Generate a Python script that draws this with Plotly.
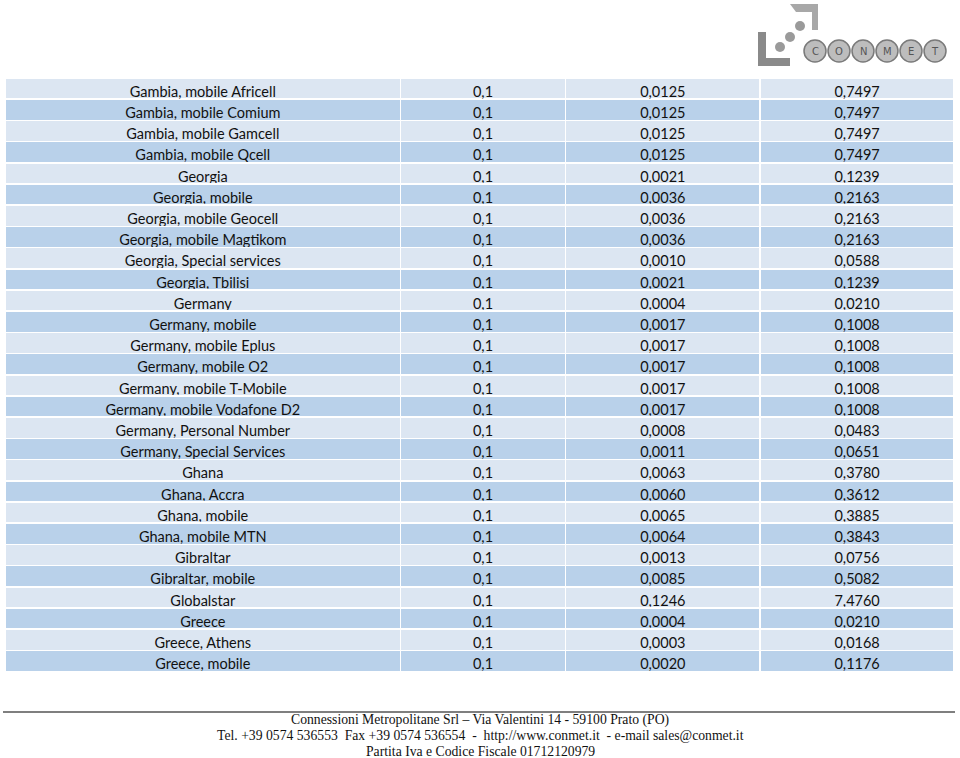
import plotly.graph_objects as go

# dati della tabella
destinazioni = [
    "Gambia, mobile Africell", "Gambia, mobile Comium", "Gambia, mobile Gamcell",
    "Gambia, mobile Qcell", "Georgia", "Georgia, mobile", "Georgia, mobile Geocell",
    "Georgia, mobile Magtikom", "Georgia, Special services", "Georgia, Tbilisi",
    "Germany", "Germany, mobile", "Germany, mobile Eplus", "Germany, mobile O2",
    "Germany, mobile T-Mobile", "Germany, mobile Vodafone D2", "Germany, Personal Number",
    "Germany, Special Services", "Ghana", "Ghana, Accra", "Ghana, mobile",
    "Ghana, mobile MTN", "Gibraltar", "Gibraltar, mobile", "Globalstar", "Greece",
    "Greece, Athens", "Greece, mobile",
]
scatto = ["0,1"] * len(destinazioni)
costo_sec = [
    "0,0125", "0,0125", "0,0125", "0,0125", "0,0021", "0,0036", "0,0036", "0,0036",
    "0,0010", "0,0021", "0,0004", "0,0017", "0,0017", "0,0017", "0,0017", "0,0017",
    "0,0008", "0,0011", "0,0063", "0,0060", "0,0065", "0,0064", "0,0013", "0,0085",
    "0,1246", "0,0004", "0,0003", "0,0020",
]
costo_min = [
    "0,7497", "0,7497", "0,7497", "0,7497", "0,1239", "0,2163", "0,2163", "0,2163",
    "0,0588", "0,1239", "0,0210", "0,1008", "0,1008", "0,1008", "0,1008", "0,1008",
    "0,0483", "0,0651", "0,3780", "0,3612", "0,3885", "0,3843", "0,0756", "0,5082",
    "7,4760", "0,0210", "0,0168", "0,1176",
]

footer = [
    "Connessioni Metropolitane Srl \u2013 Via Valentini 14 - 59100 Prato (PO)",
    "Tel. +39 0574 536553  Fax +39 0574 536554  -  http://www.conmet.it  - e-mail sales@conmet.it",
    "Partita Iva e Codice Fiscale 01712120979",
]

W, H = 960, 758
ROW_H = 21.2
chiaro, scuro = "#dce6f2", "#b9d1ea"

colonne = [destinazioni, scatto, costo_sec, costo_min]
# la prima riga va nell'header, il resto nelle celle
righe_fill = [scuro if i % 2 == 0 else chiaro for i in range(len(destinazioni) - 1)]
font_tab = dict(family="Lato, Calibri, sans-serif", size=14.5, color="#111111")

fig = go.Figure(go.Table(
    domain=dict(x=[5 / W, 955 / W], y=[0, 1 - 78 / H]),
    columnwidth=[396, 165, 195, 194],
    header=dict(values=[c[0] for c in colonne], fill_color=chiaro,
                line=dict(color="white", width=1.5), align="center",
                font=font_tab, height=ROW_H),
    cells=dict(values=[c[1:] for c in colonne], fill_color=[righe_fill] * 4,
               line=dict(color="white", width=1.5), align="center",
               font=font_tab, height=ROW_H),
))

# linea e piè di pagina
fig.add_shape(type="line", xref="paper", yref="paper", x0=3 / W, x1=955 / W,
              y0=1 - 712 / H, y1=1 - 712 / H, line=dict(color="#555555", width=1.5))
for i, riga in enumerate(footer):
    fig.add_annotation(text=riga, xref="paper", yref="paper", x=0.5,
                       y=1 - (720 + 15.5 * i) / H, showarrow=False,
                       xanchor="center", yanchor="middle",
                       font=dict(family="Liberation Serif, Times New Roman, serif",
                                 size=13.7, color="#111111"))

# logo (approssimato)
grigio = "#8a8a8a"
fig.add_shape(type="path", xref="paper", yref="paper",
              path=f"M {758/W} {1-32/H} L {766/W} {1-32/H} L {766/W} {1-58/H} L {790/W} {1-58/H} "
                   f"L {790/W} {1-66/H} L {758/W} {1-66/H} Z",
              fillcolor=grigio, line=dict(width=0))
for cx, cy, r in [(780, 47, 5), (790, 37, 5), (800, 26, 5)]:
    fig.add_shape(type="circle", xref="paper", yref="paper",
                  x0=(cx - r) / W, x1=(cx + r) / W, y0=1 - (cy + r) / H, y1=1 - (cy - r) / H,
                  fillcolor="#9a9a9a", line=dict(width=0))
fig.add_shape(type="path", xref="paper", yref="paper",
              path=f"M {790/W} {1-4/H} L {818/W} {1-4/H} L {818/W} {1-30/H} L {812/W} {1-30/H} "
                   f"L {812/W} {1-12/H} L {796/W} {1-12/H} Z",
              fillcolor="#a8a8a8", line=dict(width=0))
for j, lettera in enumerate("CONMET"):
    cx = 815 + j * 24
    fig.add_shape(type="circle", xref="paper", yref="paper",
                  x0=(cx - 11) / W, x1=(cx + 11) / W, y0=1 - 62 / H, y1=1 - 40 / H,
                  fillcolor="#bdbdbd", line=dict(color="#7a7a7a", width=1.5))
    fig.add_annotation(text=lettera, xref="paper", yref="paper", x=cx / W, y=1 - 51 / H,
                       xanchor="center", yanchor="middle", showarrow=False,
                       font=dict(family="DejaVu Sans", size=10, color="#555555"))

fig.update_layout(width=W, height=H, margin=dict(l=0, r=0, t=0, b=0),
                  paper_bgcolor="white", plot_bgcolor="white")
# togli il margine di default del body e la modebar
fig.write_html("out.html", config={"displayModeBar": False},
               post_script="document.body.style.margin='0';")
